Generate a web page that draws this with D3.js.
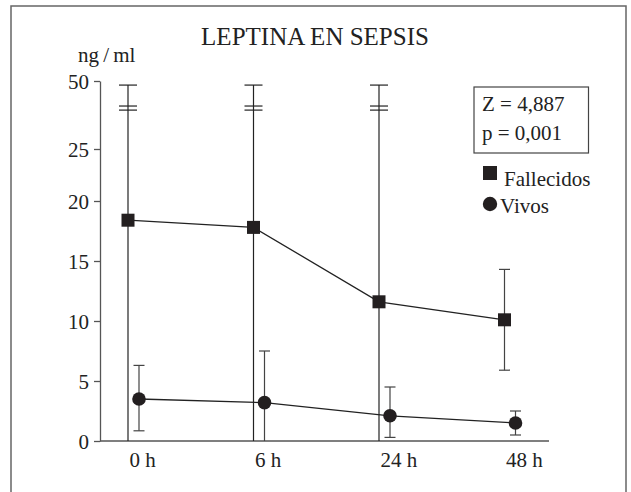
<!DOCTYPE html>
<html lang="es">
<head>
    <meta charset="UTF-8">
    <title>Leptina en sepsis</title>
    <script src="https://cdn.jsdelivr.net/npm/d3@7/dist/d3.min.js"></script>
    <style>
        body { margin: 0; background: #fff; }
        svg { width: 631px; height: 492px; display: block; }
        text { font-family: 'Liberation Serif', 'DejaVu Serif', serif; fill: #222; }
    </style>
</head>
<body>
    <svg></svg>

    <script>
        // data
        const times = ['0 h', '6 h', '24 h', '48 h'];
        const fallecidos = [18.4, 17.8, 11.6, 10.1];
        const fallecidosHigh = [48.5, 48.5, 48.5, 14.3];
        const fallecidosLow = [0, 0, 0, 5.9];
        const vivos = [3.5, 3.2, 2.1, 1.5];
        const vivosHigh = [6.3, 7.5, 4.5, 2.5];
        const vivosLow = [0.85, 0, 0.3, 0.5];
        const breakMarks = [39.3, 40.8];   // the "=" cut on the long bars
        const yTicks = [0, 5, 10, 15, 20, 25, 50];
        const statLines = ['Z = 4,887', 'p = 0,001'];
        const seriesNames = ['Fallecidos', 'Vivos'];

        const fs = 21;
        const svg = d3.select('svg');

        // frame, open at the bottom
        svg.append('path')
            .attr('d', 'M11,492 L11,6 L626,6 L626,492')
            .attr('fill', 'none')
            .attr('stroke', '#666')
            .attr('stroke-width', 1.5);

        // broken y axis: 0..20 linear, then squeezed up to 50
        const y = d3.scaleLinear()
            .domain([0, 20, 25, 50])
            .range([441, 201, 149, 81]);

        const x = d3.scalePoint()
            .domain(times)
            .range([133.5, 510]);

        const off = 5.5;

        // axes
        const yAxis = svg.append('g')
            .attr('transform', 'translate(100,0)')
            .attr('font-family', null)
            .call(d3.axisLeft(y).tickValues(yTicks).tickSize(6).tickPadding(5).tickSizeOuter(0));
        yAxis.select('.domain').attr('stroke', '#555').attr('stroke-width', 1.3);
        yAxis.selectAll('.tick line').attr('stroke', '#555').attr('stroke-width', 1.3);
        yAxis.selectAll('.tick text')
            .attr('font-size', fs)
            .attr('dy', '0.34em');

        svg.append('line')
            .attr('x1', 100).attr('x2', 549)
            .attr('y1', y(0)).attr('y2', y(0))
            .attr('stroke', '#555')
            .attr('stroke-width', 1.3);

        svg.selectAll('text.xlab')
            .data(times).enter().append('text')
            .classed('xlab', true)
            .attr('x', (d) => x(d) - 4)
            .attr('y', 467)
            .attr('font-size', fs)
            .text((d) => d);

        svg.append('text')
            .attr('x', 78).attr('y', 62)
            .attr('font-size', fs)
            .text('ng\u2009/\u2009ml');

        svg.append('text')
            .attr('x', 315).attr('y', 45)
            .attr('text-anchor', 'middle')
            .attr('font-size', 25)
            .text('LEPTINA EN SEPSIS');

        // error bars
        const fRows = times.map((t, i) => ({ t, v: fallecidos[i], hi: fallecidosHigh[i], lo: fallecidosLow[i] }));
        const vRows = times.map((t, i) => ({ t, v: vivos[i], hi: vivosHigh[i], lo: vivosLow[i] }));

        function errorBars(rows, dx, cls) {
            const g = svg.selectAll('g.' + cls)
                .data(rows).enter().append('g')
                .classed(cls, true)
                .attr('stroke', (d) => d.hi > 25 ? '#222' : '#444')
                .attr('stroke-width', 1.2);
            g.append('line')
                .attr('x1', (d) => x(d.t) + dx).attr('x2', (d) => x(d.t) + dx)
                .attr('y1', (d) => y(d.hi)).attr('y2', (d) => y(d.lo));
            [(d) => d.hi, (d) => d.lo].forEach((f) => {
                g.filter((d) => f(d) > 0).append('line')
                    .attr('x1', (d) => x(d.t) + dx - (d.hi > 25 ? 9 : 5.5))
                    .attr('x2', (d) => x(d.t) + dx + (d.hi > 25 ? 9 : 5.5))
                    .attr('y1', (d) => y(f(d))).attr('y2', (d) => y(f(d)));
            });
            g.filter((d) => d.hi > 25).selectAll('line.cut')
                .data((d) => breakMarks.map((b) => ({ t: d.t, b })))
                .enter().append('line')
                .classed('cut', true)
                .attr('x1', (d) => x(d.t) + dx - 9).attr('x2', (d) => x(d.t) + dx + 9)
                .attr('y1', (d) => y(d.b)).attr('y2', (d) => y(d.b));
        }
        errorBars(fRows, -off, 'ebf');
        errorBars(vRows, off, 'ebv');

        // connecting lines
        const line = (dx) => d3.line().x((d) => x(d.t) + dx).y((d) => y(d.v));
        svg.append('path').datum(fRows)
            .attr('d', line(-off)).attr('fill', 'none').attr('stroke', '#222').attr('stroke-width', 1.3);
        svg.append('path').datum(vRows)
            .attr('d', line(off)).attr('fill', 'none').attr('stroke', '#222').attr('stroke-width', 1.3);

        // markers
        svg.selectAll('rect.fm')
            .data(fRows).enter().append('rect')
            .classed('fm', true)
            .attr('x', (d) => x(d.t) - off - 6.5)
            .attr('y', (d) => y(d.v) - 6.5)
            .attr('width', 13).attr('height', 13)
            .attr('fill', '#231f20');
        svg.selectAll('circle.vm')
            .data(vRows).enter().append('circle')
            .classed('vm', true)
            .attr('cx', (d) => x(d.t) + off)
            .attr('cy', (d) => y(d.v))
            .attr('r', 6.8)
            .attr('fill', '#231f20');

        // stats box
        svg.append('rect')
            .attr('x', 474).attr('y', 87)
            .attr('width', 114.5).attr('height', 66)
            .attr('fill', 'none')
            .attr('stroke', '#444')
            .attr('stroke-width', 1.2);
        svg.selectAll('text.stat')
            .data(statLines).enter().append('text')
            .classed('stat', true)
            .attr('x', 482)
            .attr('y', (d, i) => 111 + i * 29)
            .attr('font-size', fs)
            .text((d) => d);

        // legend
        const leg = svg.append('g').attr('transform', 'translate(483,166)');
        leg.append('rect')
            .attr('width', 14).attr('height', 14)
            .attr('fill', '#231f20');
        leg.append('circle')
            .attr('cx', 7).attr('cy', 38).attr('r', 7.2)
            .attr('fill', '#231f20');
        leg.selectAll('text')
            .data(seriesNames).enter().append('text')
            .attr('x', (d, i) => i === 0 ? 21 : 17)
            .attr('y', (d, i) => 20 + i * 27)
            .attr('font-size', fs)
            .text((d) => d);
    </script>
</body>
</html>
